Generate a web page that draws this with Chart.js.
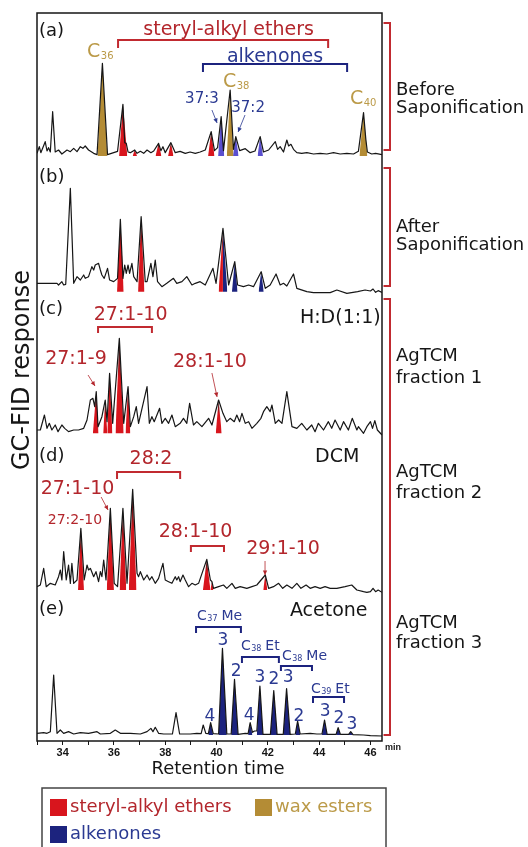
<!DOCTYPE html>
<html>
<head>
<meta charset="utf-8">
<script src="https://cdn.jsdelivr.net/npm/chart.js@4.4.1/dist/chart.umd.min.js"></script>
<style>
  html, body { margin: 0; padding: 0; background: #fff; }
  canvas { display: block; }
</style>
</head>
<body>
<canvas id="gcChart" width="528" height="847"></canvas>
<script>
// Retention time axis (min)
const timeMin = 33.0;
const timeMax = 46.45;
const tickLabels = [34, 36, 38, 40, 42, 44, 46];

// Traces: [retention time, response]
const traceA = [[33.00,8],[33.09,28],[33.15,10],[33.32,43],[33.39,15],[33.45,25],[33.52,12],[33.61,133],[33.71,12],[33.84,18],[33.97,6],[34.17,18],[34.30,13],[34.43,23],[34.56,13],[34.69,28],[34.79,23],[34.88,30],[35.01,18],[35.21,8],[35.34,4],[35.55,278],[35.75,4],[35.99,10],[36.14,14],[36.35,155],[36.42,40],[36.48,38],[36.55,12],[36.64,10],[36.81,18],[36.90,8],[37.03,14],[37.16,8],[37.29,18],[37.44,10],[37.55,15],[37.74,38],[37.83,16],[37.91,28],[38.00,10],[38.22,40],[38.39,10],[38.58,14],[38.78,8],[38.97,12],[39.17,8],[39.36,12],[39.56,18],[39.79,73],[39.92,16],[40.04,25],[40.18,118],[40.27,16],[40.53,198],[40.66,20],[40.75,58],[40.90,16],[41.12,22],[41.31,10],[41.50,15],[41.70,58],[41.83,12],[42.03,18],[42.29,43],[42.38,20],[42.48,28],[42.61,12],[42.74,48],[42.81,30],[42.90,35],[43.00,20],[43.13,10],[43.32,8],[43.52,10],[43.78,6],[44.04,8],[44.30,6],[44.56,10],[44.82,6],[45.08,8],[45.34,6],[45.53,14],[45.73,130],[45.82,50],[45.88,12],[46.05,6],[46.20,8],[46.45,4]];
const traceB = [[33.00,25],[33.78,25],[33.84,20],[33.97,30],[34.04,20],[34.12,22],[34.30,310],[34.43,25],[34.56,45],[34.69,35],[34.82,50],[34.88,40],[35.01,45],[35.14,75],[35.21,65],[35.27,80],[35.40,85],[35.47,65],[35.53,50],[35.62,40],[35.75,70],[35.83,35],[35.99,30],[36.14,40],[36.25,217],[36.35,40],[36.42,80],[36.48,55],[36.55,80],[36.61,55],[36.70,85],[36.77,45],[36.90,30],[37.06,225],[37.22,30],[37.29,30],[37.44,85],[37.52,45],[37.61,95],[37.70,30],[37.87,15],[38.06,25],[38.32,40],[38.45,25],[38.65,30],[38.84,45],[39.04,20],[39.17,25],[39.36,30],[39.56,20],[39.86,70],[39.98,25],[40.25,190],[40.47,20],[40.71,90],[40.82,20],[41.05,15],[41.25,20],[41.44,15],[41.74,60],[41.90,10],[42.09,20],[42.32,53],[42.48,20],[42.61,25],[42.74,17],[43.00,53],[43.13,10],[43.52,0],[43.78,-3],[44.43,-3],[44.69,5],[45.08,-5],[45.50,0],[45.79,5],[46.00,2],[46.10,8],[46.20,-2],[46.30,3],[46.45,-2]];
const traceC = [[33.00,10],[33.13,10],[33.29,55],[33.39,15],[33.48,30],[33.58,10],[33.71,25],[33.82,5],[33.97,25],[34.08,15],[34.23,5],[34.43,10],[34.62,10],[34.82,15],[34.95,40],[35.08,100],[35.18,105],[35.25,80],[35.31,125],[35.38,20],[35.53,50],[35.66,100],[35.73,35],[35.83,180],[35.95,30],[36.21,285],[36.38,30],[36.55,140],[36.64,20],[36.77,50],[36.87,80],[36.96,30],[37.29,140],[37.38,30],[37.48,50],[37.57,35],[37.78,75],[37.87,30],[38.00,45],[38.13,30],[38.26,55],[38.39,20],[38.58,30],[38.71,45],[38.84,30],[38.95,90],[39.10,25],[39.23,35],[39.43,20],[39.69,45],[39.82,25],[40.08,100],[40.25,60],[40.40,35],[40.53,45],[40.69,35],[40.79,55],[40.90,35],[40.99,60],[41.12,30],[41.25,35],[41.38,15],[41.57,30],[41.73,45],[41.83,65],[41.96,80],[42.09,65],[42.16,85],[42.29,30],[42.42,40],[42.55,30],[42.74,125],[42.94,20],[43.13,15],[43.32,30],[43.52,10],[43.71,25],[43.84,5],[43.97,30],[44.17,10],[44.36,35],[44.49,15],[44.62,40],[44.82,10],[44.95,35],[45.14,10],[45.29,45],[45.47,10],[45.53,20],[45.73,0],[45.86,20],[46.00,35],[46.08,15],[46.17,38],[46.27,10],[46.45,-5]];
const traceD = [[33.00,10],[33.13,15],[33.26,65],[33.36,10],[33.52,20],[33.71,15],[33.84,40],[33.91,60],[33.97,30],[34.04,115],[34.14,30],[34.23,75],[34.30,20],[34.36,80],[34.43,20],[34.56,30],[34.71,185],[34.84,30],[34.95,75],[35.01,60],[35.08,65],[35.21,40],[35.30,55],[35.40,25],[35.47,55],[35.53,40],[35.60,90],[35.69,30],[35.86,245],[36.01,20],[36.14,10],[36.35,245],[36.51,20],[36.73,302],[36.90,50],[36.96,40],[37.03,55],[37.16,30],[37.29,45],[37.39,30],[37.48,40],[37.61,20],[37.74,35],[37.91,80],[38.00,30],[38.13,25],[38.26,20],[38.39,40],[38.45,30],[38.52,40],[38.58,25],[38.69,45],[38.78,30],[38.91,10],[39.04,20],[39.17,15],[39.30,20],[39.62,92],[39.76,30],[39.82,25],[39.88,5],[40.08,10],[40.27,15],[40.40,5],[40.60,20],[40.73,5],[40.92,10],[41.18,5],[41.38,10],[41.57,15],[41.90,45],[42.03,5],[42.22,10],[42.42,20],[42.58,5],[42.74,15],[42.94,5],[43.13,20],[43.29,5],[43.49,15],[43.65,5],[43.84,10],[44.04,5],[44.23,10],[44.43,5],[44.69,5],[45.01,10],[45.27,15],[45.47,0],[45.73,-5],[45.86,-7],[46.00,-5],[46.10,5],[46.20,-5],[46.30,0],[46.45,-7]];
const traceE = [[33.00,5],[33.26,7],[33.39,5],[33.52,10],[33.65,180],[33.78,5],[33.91,15],[34.04,5],[34.23,10],[34.43,3],[34.69,7],[35.01,5],[35.34,10],[35.47,3],[35.86,5],[36.05,15],[36.25,5],[36.64,5],[37.03,3],[37.29,10],[37.44,20],[37.52,10],[37.61,23],[37.74,5],[37.94,3],[38.28,3],[38.42,67],[38.56,3],[38.97,3],[39.23,5],[39.40,4],[39.48,30],[39.58,5],[39.68,4],[39.77,37],[39.87,4],[40.08,3],[40.23,260],[40.40,3],[40.57,3],[40.70,167],[40.84,2],[41.12,5],[41.23,4],[41.31,37],[41.40,8],[41.48,12],[41.57,12],[41.69,147],[41.81,2],[42.10,2],[42.23,133],[42.36,2],[42.60,2],[42.73,139],[42.87,2],[43.07,3],[43.16,42],[43.26,3],[43.65,5],[43.91,3],[44.11,3],[44.21,45],[44.31,2],[44.66,2],[44.74,22],[44.83,2],[45.15,2],[45.23,10],[45.32,1],[45.73,0],[46.00,-2],[46.45,-3]];

// Shaded peaks: [left foot, apex, right foot, apex response]
const sterylA = [[36.20,36.35,36.52,155],[36.73,36.81,36.90,18],[37.62,37.74,37.85,38],[38.11,38.22,38.32,40],[39.67,39.79,39.92,73]];
const waxA = [[35.36,35.55,35.74,278],[40.40,40.53,40.66,198],[45.57,45.73,45.88,130]];
const alkA = [[40.06,40.18,40.30,118],[40.64,40.75,40.86,58],[41.60,41.70,41.81,58]];
const sterylB = [[36.12,36.25,36.38,217],[36.94,37.06,37.19,225],[40.08,40.25,40.25,190]];
const alkB = [[40.25,40.25,40.42,190],[40.60,40.71,40.82,90],[41.64,41.74,41.84,60]];
const sterylC = [[35.18,35.31,35.40,125],[35.58,35.66,35.74,100],[35.74,35.83,35.94,180],[36.06,36.21,36.38,285],[36.45,36.55,36.64,140],[39.97,40.08,40.20,100]];
const sterylD = [[34.60,34.71,34.83,185],[35.72,35.86,36.00,245],[36.22,36.35,36.48,245],[36.58,36.73,36.88,302],[39.47,39.62,39.76,92],[39.76,39.82,39.88,25],[41.82,41.90,41.98,45]];
const alkE = [[39.68,39.77,39.87,37],[40.08,40.23,40.40,260],[40.57,40.70,40.84,167],[41.23,41.31,41.40,37],[41.57,41.69,41.81,147],[42.10,42.23,42.36,133],[42.60,42.73,42.87,139],[43.07,43.16,43.26,42],[44.11,44.21,44.31,45],[44.66,44.74,44.83,22],[45.15,45.23,45.32,10]];

// Panels stacked top to bottom
const panelAxes = ['ya', 'yb', 'yc', 'yd', 'ye'];
const panelTraces = [traceA, traceB, traceC, traceD, traceE];
const panelMin = [-12, -7, -26, -9, -18];
const panelMax = [429, 395, 418, 444, 426];
const panelWeight = [147, 134, 148, 151, 148];

const legendLabels = ['steryl-alkyl ethers', 'wax esters', 'alkenones'];

// colours
const RED = '#d8151d', RED_TXT = '#b3262c', GOLD = '#b48c35', GOLD_TXT = '#bb9a48';
const NAVY = '#1c237e', PURPLE = '#5a4fcf', BLUE_TXT = '#2b3a92', BRACKET = '#c12a30', INK = '#161616';
const legendColors = [RED, GOLD, NAVY];
const legendTextColors = [RED_TXT, GOLD_TXT, BLUE_TXT];

// how far down from the apex the dark tip of a shaded peak reaches
const tipShare = { [RED]: 0.42, [GOLD]: 0.18, [NAVY]: 0.22, [PURPLE]: 0.35 };

function shade(c, axis, h, base) {
  const chart = c.chart;
  const sc = chart.scales[axis];
  if (!chart.chartArea || !sc) return base;
  const top = sc.getPixelForValue(h), bot = sc.getPixelForValue(0);
  if (!(bot > top)) return base;
  const g = chart.ctx.createLinearGradient(0, top, 0, bot);
  g.addColorStop(0, '#141414');
  g.addColorStop(tipShare[base] || 0.3, base);
  g.addColorStop(1, base);
  return g;
}

function peakSets(axis, peaks, color) {
  return peaks.map(([tL, tA, tR, h]) => ({
    yAxisID: axis,
    order: 2,
    data: [{x: tL, y: 0}, {x: tA, y: h}, {x: tR, y: 0}],
    borderWidth: 0,
    pointRadius: 0,
    fill: {value: 0},
    backgroundColor: (c) => shade(c, axis, h, color)
  }));
}

const datasets = [];
panelTraces.forEach((tr, i) => {
  datasets.push({
    yAxisID: panelAxes[i],
    order: 0,
    data: tr.map(([x, y]) => ({x, y})),
    borderColor: INK,
    borderWidth: 1.2,
    borderJoinStyle: 'round',
    pointRadius: 0,
    fill: false,
    tension: 0
  });
});
datasets.push(...peakSets('ya', sterylA, RED), ...peakSets('ya', waxA, GOLD), ...peakSets('ya', alkA, PURPLE));
datasets.push(...peakSets('yb', sterylB, RED), ...peakSets('yb', alkB, NAVY));
datasets.push(...peakSets('yc', sterylC, RED));
datasets.push(...peakSets('yd', sterylD, RED));
datasets.push(...peakSets('ye', alkE, NAVY));

// text labels anchored in (time, response) of a panel
const labels = [
  {ax:'ya', t:33.08, v:378, text:'(a)', color:INK, size:18, align:'left'},
  {ax:'ya', t:40.47, v:384, text:'steryl-alkyl ethers', color:RED_TXT, size:19, align:'center'},
  {ax:'ya', t:42.28, v:303, text:'alkenones', color:BLUE_TXT, size:19, align:'center'},
  {ax:'ya', t:34.95, v:318, text:'C', sub:'36', color:GOLD_TXT, size:19, align:'left'},
  {ax:'ya', t:40.25, v:228, text:'C', sub:'38', color:GOLD_TXT, size:19, align:'left'},
  {ax:'ya', t:45.20, v:177, text:'C', sub:'40', color:GOLD_TXT, size:19, align:'left'},
  {ax:'ya', t:39.43, v:174, text:'37:3', color:BLUE_TXT, size:15, align:'center'},
  {ax:'ya', t:41.23, v:147, text:'37:2', color:BLUE_TXT, size:15, align:'center'},
  {ax:'yb', t:33.08, v:347, text:'(b)', color:INK, size:18, align:'left'},
  {ax:'yc', t:33.08, v:376, text:'(c)', color:INK, size:18, align:'left'},
  {ax:'yc', t:36.65, v:361, text:'27:1-10', color:RED_TXT, size:19, align:'center'},
  {ax:'yc', t:34.52, v:229, text:'27:1-9', color:RED_TXT, size:19, align:'center'},
  {ax:'yc', t:39.74, v:220, text:'28:1-10', color:RED_TXT, size:19, align:'center'},
  {ax:'yc', t:43.25, v:352, text:'H:D(1:1)', color:INK, size:19, align:'left'},
  {ax:'yd', t:33.08, v:405, text:'(d)', color:INK, size:18, align:'left'},
  {ax:'yd', t:43.84, v:405, text:'DCM', color:INK, size:19, align:'left'},
  {ax:'yd', t:37.44, v:399, text:'28:2', color:RED_TXT, size:19, align:'center'},
  {ax:'yd', t:34.58, v:309, text:'27:1-10', color:RED_TXT, size:19, align:'center'},
  {ax:'yd', t:34.48, v:213, text:'27:2-10', color:RED_TXT, size:14, align:'center'},
  {ax:'yd', t:39.18, v:180, text:'28:1-10', color:RED_TXT, size:19, align:'center'},
  {ax:'yd', t:42.59, v:129, text:'29:1-10', color:RED_TXT, size:19, align:'center'},
  {ax:'ye', t:33.08, v:381, text:'(e)', color:INK, size:18, align:'left'},
  {ax:'ye', t:42.86, v:378, text:'Acetone', color:INK, size:19, align:'left'},
  {ax:'ye', t:39.24, v:360, text:'C', sub:'37', tail:' Me', color:BLUE_TXT, size:14, align:'left'},
  {ax:'ye', t:40.95, v:270, text:'C', sub:'38', tail:' Et', color:BLUE_TXT, size:14, align:'left'},
  {ax:'ye', t:42.55, v:240, text:'C', sub:'38', tail:' Me', color:BLUE_TXT, size:14, align:'left'},
  {ax:'ye', t:43.68, v:141, text:'C', sub:'39', tail:' Et', color:BLUE_TXT, size:14, align:'left'},
  {ax:'ye', t:40.25, v:288, text:'3', color:BLUE_TXT, size:17, align:'center'},
  {ax:'ye', t:40.76, v:195, text:'2', color:BLUE_TXT, size:17, align:'center'},
  {ax:'ye', t:41.69, v:177, text:'3', color:BLUE_TXT, size:17, align:'center'},
  {ax:'ye', t:42.24, v:171, text:'2', color:BLUE_TXT, size:17, align:'center'},
  {ax:'ye', t:42.79, v:177, text:'3', color:BLUE_TXT, size:17, align:'center'},
  {ax:'ye', t:39.74, v:60, text:'4', color:BLUE_TXT, size:17, align:'center'},
  {ax:'ye', t:41.27, v:63, text:'4', color:BLUE_TXT, size:17, align:'center'},
  {ax:'ye', t:43.21, v:60, text:'2', color:BLUE_TXT, size:17, align:'center'},
  {ax:'ye', t:44.23, v:75, text:'3', color:BLUE_TXT, size:17, align:'center'},
  {ax:'ye', t:44.77, v:54, text:'2', color:BLUE_TXT, size:17, align:'center'},
  {ax:'ye', t:45.28, v:36, text:'3', color:BLUE_TXT, size:17, align:'center'}
];

// group brackets: horizontal bar at v, end ticks down to v2
const brackets = [
  {ax:'ya', t0:36.16, t1:44.35, v:348, v2:324, color:BRACKET},
  {ax:'ya', t0:39.47, t1:45.09, v:276, v2:252, color:NAVY},
  {ax:'yc', t0:35.38, t1:37.48, v:319, v2:301, color:BRACKET},
  {ax:'yd', t0:36.12, t1:38.58, v:354, v2:333, color:BRACKET},
  {ax:'yd', t0:39.00, t1:40.29, v:132, v2:114, color:BRACKET},
  {ax:'ye', t0:39.20, t1:40.95, v:324, v2:306, color:NAVY},
  {ax:'ye', t0:40.99, t1:42.43, v:234, v2:216, color:NAVY},
  {ax:'ye', t0:42.51, t1:43.72, v:207, v2:192, color:NAVY},
  {ax:'ye', t0:43.76, t1:44.97, v:114, v2:96, color:NAVY}
];

const arrows = [
  {ax:'ya', t0:39.82, v0:138, t1:40.02, v1:99, color:BLUE_TXT},
  {ax:'ya', t0:41.11, v0:123, t1:40.84, v1:72, color:BLUE_TXT},
  {ax:'yc', t0:34.99, v0:175, t1:35.26, v1:142, color:RED_TXT},
  {ax:'yc', t0:39.82, v0:181, t1:40.02, v1:109, color:RED_TXT},
  {ax:'yd', t0:35.50, v0:279, t1:35.77, v1:240, color:RED_TXT},
  {ax:'yd', t0:41.89, v0:87, t1:41.89, v1:45, color:RED_TXT}
];

// sample brackets on the right: from (axis, value) to (axis, value)
const sideGroups = [
  {from:['ya', 399], to:['ya', 18], lines:[['Before', 95], ['Saponification', 113]]},
  {from:['yb', 371], to:['yb', 17], lines:[['After', 232], ['Saponification', 250]]},
  {from:['yc', 403], to:['ye', 0], lines:[['AgTCM', 361], ['fraction 1', 383], ['AgTCM', 477], ['fraction 2', 498], ['AgTCM', 628], ['fraction 3', 648]]}
];

const FONT = '"DejaVu Sans", sans-serif';

function drawLabel(ctx, l, x, y) {
  const f = s => s + 'px ' + FONT;
  const subSize = Math.round(l.size * 0.55);
  ctx.font = f(l.size);
  const wMain = ctx.measureText(l.text).width;
  const wTail = l.tail ? ctx.measureText(l.tail).width : 0;
  ctx.font = f(subSize);
  const wSub = l.sub ? ctx.measureText(l.sub).width : 0;
  const total = wMain + wSub + wTail;
  const x0 = l.align === 'center' ? x - total / 2 : x;
  const base = y + l.size * 0.36;
  ctx.fillStyle = l.color;
  ctx.textAlign = 'left';
  ctx.textBaseline = 'alphabetic';
  ctx.font = f(l.size);
  ctx.fillText(l.text, x0, base);
  if (l.sub) {
    ctx.font = f(subSize);
    ctx.fillText(l.sub, x0 + wMain + 0.5, base + l.size * 0.1);
  }
  if (l.tail) {
    ctx.font = f(l.size);
    ctx.fillText(l.tail, x0 + wMain + wSub, base);
  }
}

const overlay = {
  id: 'overlay',
  afterDraw(chart) {
    const {ctx, chartArea: ca, scales} = chart;
    const X = t => scales.x.getPixelForValue(t);
    const Y = (ax, v) => scales[ax].getPixelForValue(v);
    ctx.save();

    // frame
    ctx.strokeStyle = INK;
    ctx.lineWidth = 1.5;
    ctx.strokeRect(ca.left, ca.top, ca.right - ca.left, ca.bottom - ca.top);

    labels.forEach(l => drawLabel(ctx, l, X(l.t), Y(l.ax, l.v)));

    ctx.lineWidth = 2;
    brackets.forEach(b => {
      ctx.strokeStyle = b.color;
      ctx.beginPath();
      ctx.moveTo(X(b.t0), Y(b.ax, b.v2));
      ctx.lineTo(X(b.t0), Y(b.ax, b.v));
      ctx.lineTo(X(b.t1), Y(b.ax, b.v));
      ctx.lineTo(X(b.t1), Y(b.ax, b.v2));
      ctx.stroke();
    });

    arrows.forEach(a => {
      const x0 = X(a.t0), y0 = Y(a.ax, a.v0), x1 = X(a.t1), y1 = Y(a.ax, a.v1);
      const ang = Math.atan2(y1 - y0, x1 - x0);
      ctx.strokeStyle = a.color;
      ctx.fillStyle = a.color;
      ctx.lineWidth = 0.8;
      ctx.beginPath();
      ctx.moveTo(x0, y0);
      ctx.lineTo(x1, y1);
      ctx.stroke();
      ctx.beginPath();
      ctx.moveTo(x1, y1);
      ctx.lineTo(x1 - 5 * Math.cos(ang - 0.45), y1 - 5 * Math.sin(ang - 0.45));
      ctx.lineTo(x1 - 5 * Math.cos(ang + 0.45), y1 - 5 * Math.sin(ang + 0.45));
      ctx.closePath();
      ctx.fill();
    });

    // right-hand sample brackets and captions
    const bx = ca.right + 8;
    sideGroups.forEach(g => {
      const y0 = Y(g.from[0], g.from[1]), y1 = Y(g.to[0], g.to[1]);
      ctx.strokeStyle = BRACKET;
      ctx.lineWidth = 2;
      ctx.beginPath();
      ctx.moveTo(ca.right + 1.5, y0);
      ctx.lineTo(bx, y0);
      ctx.lineTo(bx, y1);
      ctx.lineTo(ca.right + 1.5, y1);
      ctx.stroke();
      ctx.fillStyle = INK;
      ctx.font = '18px ' + FONT;
      ctx.textAlign = 'left';
      ctx.textBaseline = 'alphabetic';
      g.lines.forEach(([txt, y]) => ctx.fillText(txt, ca.right + 14, y));
    });

    // axis titles
    ctx.fillStyle = INK;
    ctx.textAlign = 'center';
    ctx.textBaseline = 'alphabetic';
    ctx.font = '18px ' + FONT;
    ctx.fillText('Retention time', X(40.06), ca.bottom + 33);
    ctx.font = 'bold 9px "Liberation Sans", Arial, sans-serif';
    ctx.textAlign = 'left';
    ctx.fillText('min', ca.right + 3, ca.bottom + 9);
    ctx.save();
    ctx.translate(23, (ca.top + ca.bottom) / 2 - 7);
    ctx.rotate(-Math.PI / 2);
    ctx.textAlign = 'center';
    ctx.textBaseline = 'middle';
    ctx.font = '24px ' + FONT;
    ctx.fillText('GC-FID response', 0, 0);
    ctx.restore();

    // legend box
    const lx = ca.left + 5, ly = ca.bottom + 47;
    ctx.strokeStyle = '#444';
    ctx.lineWidth = 1.5;
    ctx.strokeRect(lx, ly, 344, 80);
    const spots = [[lx + 8, ly + 11], [lx + 213, ly + 11], [lx + 8, ly + 38]];
    legendLabels.forEach((lab, i) => {
      const [sx, sy] = spots[i];
      ctx.fillStyle = legendColors[i];
      ctx.fillRect(sx, sy, 17, 17);
      ctx.fillStyle = legendTextColors[i];
      ctx.font = '18px ' + FONT;
      ctx.textAlign = 'left';
      ctx.textBaseline = 'middle';
      ctx.fillText(lab, sx + 20, sy + 8);
    });
    ctx.restore();
  }
};

const yScales = {};
panelAxes.forEach((id, i) => {
  yScales[id] = {
    type: 'linear',
    display: false,
    position: 'left',
    stack: 'panels',
    stackWeight: panelWeight[i],
    weight: panelAxes.length - i,
    min: panelMin[i],
    max: panelMax[i]
  };
});

new Chart(document.getElementById('gcChart'), {
  type: 'line',
  data: { datasets },
  options: {
    responsive: false,
    animation: false,
    events: [],
    layout: { padding: { top: 13, left: 37, right: 146, bottom: 0 } },
    plugins: { legend: { display: false }, tooltip: { enabled: false } },
    scales: {
      x: {
        type: 'linear',
        min: timeMin,
        max: timeMax,
        afterFit: (s) => { s.height = 106; },
        border: { display: false },
        grid: { drawOnChartArea: false, drawTicks: true, tickLength: 4, color: INK, lineWidth: 1 },
        ticks: {
          stepSize: 1,
          includeBounds: false,
          autoSkip: false,
          maxRotation: 0,
          padding: 1,
          color: INK,
          font: { family: '"Liberation Sans", Arial, sans-serif', size: 11, weight: 'bold' },
          callback: (v) => tickLabels.includes(v) ? String(v) : ''
        }
      },
      ...yScales
    }
  },
  plugins: [overlay]
});
</script>
</body>
</html>
